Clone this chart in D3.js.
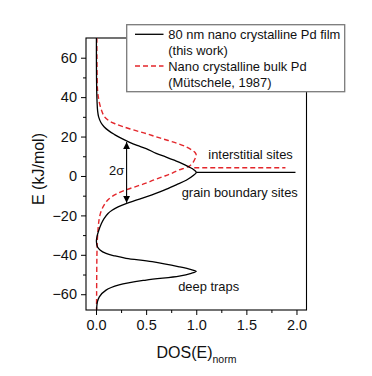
<!DOCTYPE html>
<html>
<head>
<meta charset="utf-8">
<script src="https://cdn.jsdelivr.net/npm/d3@7"></script>
<style>
  html, body { margin: 0; padding: 0; background: #fff; }
  svg { display: block; font-family: "Liberation Sans", Arial, sans-serif; }
</style>
</head>
<body>
<svg id="chart" width="372" height="376"></svg>
<script>
// ---- data ----
// 80 nm nano crystalline Pd film (this work): energy E (kJ/mol) and DOS
const filmE   = [70, 60, 50, 43, 38, 33, 30, 27, 25, 23, 21, 19.7, 17.2, 15.5, 13.9, 11.5, 9.6, 8, 6.3, 4.5, 3.2, 1.8,
                 0.2, -2.2, -4.5, -7.2, -9, -10.6, -12.3, -14, -15.7, -17.4, -19, -21.6, -24, -27.5, -30.9, -33.4,
                 -35.9, -37.5, -39.3, -40.6, -41.8, -43.5, -46.1, -47.5, -48.4, -49.4, -50.8, -52.8, -55.3, -57.9,
                 -61.3, -63.8, -66, -68];
const filmDOS = [0.004, 0.004, 0.005, 0.007, 0.010, 0.016, 0.026, 0.05, 0.08, 0.125, 0.185, 0.23, 0.33, 0.41, 0.50, 0.60, 0.70, 0.78, 0.86, 0.93, 0.975, 1.0,
                 0.97, 0.90, 0.80, 0.68, 0.59, 0.50, 0.40, 0.30, 0.22, 0.16, 0.12, 0.08, 0.055, 0.028, 0.009, 0.004,
                 0.014, 0.04, 0.10, 0.19, 0.30, 0.56, 0.83, 0.95, 1.0, 0.95, 0.83, 0.50, 0.23, 0.10,
                 0.033, 0.014, 0.008, 0.006];
// Nano crystalline bulk Pd (Mütschele, 1987)
const bulkE   = [70, 60, 50, 43, 38, 33.3, 30, 28, 26.5, 25, 23.1, 21.5, 19.7, 18, 16.4, 14.5, 13, 11.8, 10.5, 9, 7, 5,
                 2.9, 1, -0.5, -2, -3.8, -5.5, -7.2, -9, -10.6, -12.3, -14, -16.5, -19, -22, -25.8, -32.6, -40, -50, -60, -68];
const bulkDOS = [0.008, 0.009, 0.011, 0.016, 0.03, 0.055, 0.085, 0.13, 0.19, 0.27, 0.39, 0.50, 0.61, 0.72, 0.82, 0.91, 0.96, 0.99, 1.0, 0.99, 0.97, 0.93,
                 0.82, 0.74, 0.66, 0.58, 0.49, 0.39, 0.29, 0.21, 0.155, 0.115, 0.09, 0.062, 0.044, 0.031, 0.022, 0.013, 0.009, 0.007, 0.006, 0.005];
// site-energy markers (horizontal lines): [DOS start, DOS end, E]
const filmLevel = [1.0, 1.99, 1.8];
const bulkLevel = [0.98, 1.89, 4.2];

const seriesNames = ["80 nm nano crystalline Pd film", "(this work)", "Nano crystalline bulk Pd", "(Mütschele, 1987)"];
const xTicks = [0, 0.5, 1.0, 1.5, 2.0];
const xMinor = [0.25, 0.75, 1.25, 1.75];
const yTicks = [60, 40, 20, 0, -20, -40, -60];
const yMinor = [50, 30, 10, -10, -30, -50];

// ---- drawing ----
const svg = d3.select("#chart");
const x = d3.scaleLinear().domain([-0.1, 2.1]).range([86, 306.5]);
const y = d3.scaleLinear().domain([-68, 70]).range([310, 38]);
const RED = "#e3262b";

// frame
svg.append("rect").attr("x", x(-0.1)).attr("y", y(70))
  .attr("width", x(2.1) - x(-0.1)).attr("height", y(-68) - y(70))
  .attr("fill", "none").attr("stroke", "#000").attr("stroke-width", 1.1);

// axes
const yAx = svg.append("g").attr("transform", `translate(${x(-0.1)},0)`)
  .call(d3.axisLeft(y).tickValues(yTicks).tickSize(5).tickPadding(4).tickFormat(d3.format("d")));
const yAxMinor = svg.append("g").attr("transform", `translate(${x(-0.1)},0)`)
  .call(d3.axisLeft(y).tickValues(yMinor).tickSize(3).tickFormat(""));
const xAx = svg.append("g").attr("transform", `translate(0,${y(-68)})`)
  .call(d3.axisBottom(x).tickValues(xTicks).tickSize(5).tickPadding(5).tickFormat(d3.format(".1f")));
const xAxMinor = svg.append("g").attr("transform", `translate(0,${y(-68)})`)
  .call(d3.axisBottom(x).tickValues(xMinor).tickSize(3).tickFormat(""));
[yAx, yAxMinor, xAx, xAxMinor].forEach(g => {
  g.select(".domain").remove();
  g.selectAll("line").attr("stroke", "#000").attr("stroke-width", 1);
  g.selectAll("text").attr("font-size", 14.5).attr("fill", "#111")
    .attr("font-family", "Liberation Sans, Arial, sans-serif");
});

// curves
const line = d3.line().x(d => x(d[1])).y(d => y(d[0])).curve(d3.curveCatmullRom.alpha(0.5));
svg.append("path").datum(bulkE.map((e, i) => [e, bulkDOS[i]]))
  .attr("d", line).attr("fill", "none").attr("stroke", RED).attr("stroke-width", 1.4)
  .attr("stroke-dasharray", "5,3");
svg.append("path").datum(filmE.map((e, i) => [e, filmDOS[i]]))
  .attr("d", line).attr("fill", "none").attr("stroke", "#000").attr("stroke-width", 1.3);

// level lines
svg.append("line").attr("x1", x(bulkLevel[0])).attr("x2", x(bulkLevel[1]))
  .attr("y1", y(bulkLevel[2])).attr("y2", y(bulkLevel[2]))
  .attr("stroke", RED).attr("stroke-width", 1.4).attr("stroke-dasharray", "5,3");
svg.append("line").attr("x1", x(filmLevel[0])).attr("x2", x(filmLevel[1]))
  .attr("y1", y(filmLevel[2])).attr("y2", y(filmLevel[2]))
  .attr("stroke", "#000").attr("stroke-width", 1.3);

// 2σ double arrow
const defs = svg.append("defs");
defs.append("marker").attr("id", "ah").attr("viewBox", "0 0 10 10").attr("refX", 10).attr("refY", 5)
  .attr("markerWidth", 7).attr("markerHeight", 7).attr("markerUnits", "userSpaceOnUse")
  .attr("orient", "auto-start-reverse")
  .append("path").attr("d", "M0,0 L10,5 L0,10 Z").attr("fill", "#000");
svg.append("line").attr("x1", x(0.305)).attr("x2", x(0.305))
  .attr("y1", y(17.2)).attr("y2", y(-13.6))
  .attr("stroke", "#000").attr("stroke-width", 1.1)
  .attr("marker-start", "url(#ah)").attr("marker-end", "url(#ah)");

const ann = svg.append("g").attr("font-size", 12.9).attr("fill", "#111");
ann.append("text").attr("x", x(0.13)).attr("y", y(0.5)).text("2σ");
ann.append("text").attr("x", x(1.12)).attr("y", y(8.6)).text("interstitial sites");
ann.append("text").attr("x", x(0.855)).attr("y", y(-10.7)).text("grain boundary sites");
ann.append("text").attr("x", x(0.82)).attr("y", y(-58.2)).text("deep traps");

// axis titles
svg.append("text").attr("transform", `translate(44,169) rotate(-90)`)
  .attr("text-anchor", "middle").attr("font-size", 16).attr("fill", "#111").text("E (kJ/mol)");
const xt = svg.append("text").attr("x", 156.5).attr("y", 357.5).attr("font-size", 16).attr("fill", "#111");
xt.append("tspan").text("DOS(E)");
xt.append("tspan").attr("font-size", 10.5).attr("dy", 5).text("norm");

// legend
const lg = svg.append("g");
lg.append("rect").attr("x", 126.7).attr("y", 24.7).attr("width", 218).attr("height", 67)
  .attr("fill", "#fff").attr("stroke", "#7a7a7a").attr("stroke-width", 1.3);
lg.append("line").attr("x1", 135).attr("x2", 163.5).attr("y1", 34.3).attr("y2", 34.3)
  .attr("stroke", "#000").attr("stroke-width", 1.3);
lg.append("line").attr("x1", 135).attr("x2", 163.5).attr("y1", 66).attr("y2", 66)
  .attr("stroke", RED).attr("stroke-width", 1.4).attr("stroke-dasharray", "5,3");
const lgBase = [38.8, 55, 70.6, 86.5];
seriesNames.forEach((s, i) => {
  lg.append("text").attr("x", 168.3).attr("y", lgBase[i]).attr("font-size", 12.9).attr("fill", "#111").text(s);
});
</script>
</body>
</html>
